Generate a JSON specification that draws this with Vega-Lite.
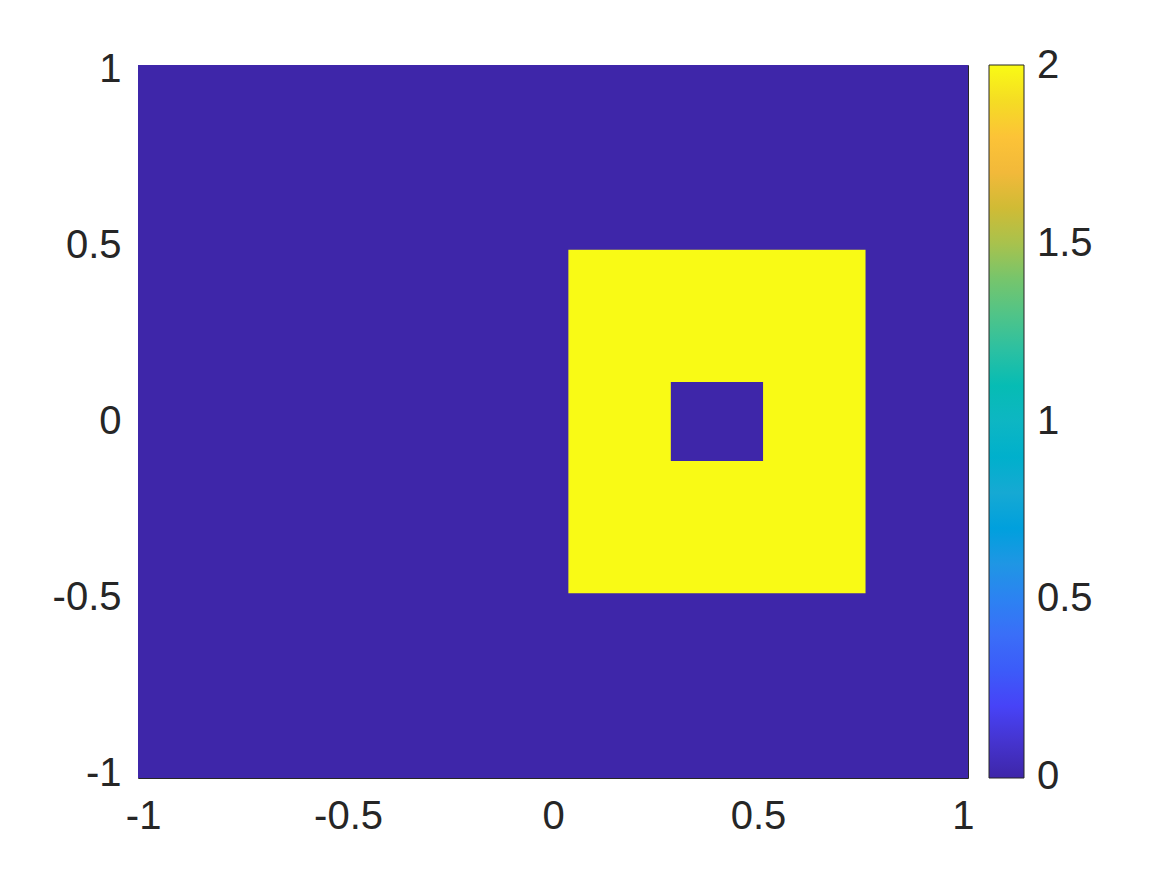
{
  "$schema": "https://vega.github.io/schema/vega-lite/v6.json",
  "width": 830,
  "height": 713,
  "autosize": {"type": "none"},
  "padding": {"left": 138, "top": 65, "right": 199, "bottom": 97},
  "background": "white",
  "config": {
    "view": {"stroke": "#262626", "strokeWidth": 1},
    "font": "Liberation Sans",
    "axis": {
      "domain": false,
      "grid": false,
      "zindex": 1,
      "tickColor": "#262626",
      "tickSize": -8,
      "tickWidth": 1,
      "labelFont": "Liberation Sans",
      "labelFontSize": 40,
      "labelColor": "#262626",
      "title": null
    }
  },
  "data": {
    "values": [
      {"x0": -1.0125, "x1": 1.0125, "y0": -1.0125, "y1": 1.0125, "v": 0},
      {"x0": 0.0375, "x1": 0.7625, "y0": -0.4875, "y1": 0.4875, "v": 2},
      {"x0": 0.2875, "x1": 0.5125, "y0": -0.1125, "y1": 0.1125, "v": 0}
    ]
  },
  "layer": [
    {
      "mark": {"type": "rect"},
      "encoding": {
        "x": {"field": "x0", "type": "quantitative", "scale": {"domain": [-1.0125, 1.0125], "nice": false, "zero": false},
              "axis": {"orient": "bottom", "values": [-1, -0.5, 0, 0.5, 1], "labelPadding": 26, "labelExpr": "'' + datum.value"}},
        "x2": {"field": "x1"},
        "y": {"field": "y0", "type": "quantitative", "scale": {"domain": [-1.0125, 1.0125], "nice": false, "zero": false},
              "axis": {"orient": "left", "values": [-1, -0.5, 0, 0.5, 1], "labelPadding": 25, "labelExpr": "'' + datum.value"}},
        "y2": {"field": "y1"},
        "color": {
          "field": "v", "type": "quantitative",
          "scale": {
            "domain": [-0.002, 0.2, 0.4, 0.5, 0.6, 0.8, 1.0, 1.2, 1.4, 1.5, 1.6, 1.7, 1.8, 1.9, 2.002],
            "range": ["#3e26a8", "#4743f7", "#3a6ef8", "#2c82f2", "#1f96e4", "#16a9d3", "#0db6c3", "#2bc0a2", "#76c56c", "#a8c24d", "#d0bb35", "#f2b93a", "#fcc337", "#f5dc24", "#f9fb15"]
          },
          "legend": {
            "orient": "none",
            "legendX": 851,
            "legendY": 0,
            "direction": "vertical",
            "type": "gradient",
            "title": null,
            "gradientLength": 713,
            "gradientThickness": 35,
            "gradientStrokeColor": "#262626",
            "gradientStrokeWidth": 1,
            "values": [0, 0.5, 1, 1.5, 2],
            "labelExpr": "'' + datum.value",
            "labelFont": "Liberation Sans",
            "labelFontSize": 40,
            "labelColor": "#262626",
            "labelOffset": 13,
            "labelBaseline": "middle",
            "labelOverlap": false
          }
        }
      }
    },
    {
      "mark": {"type": "rect"},
      "encoding": {
        "x": {"field": "x0", "type": "quantitative", "axis": {"orient": "top", "values": [-1, -0.5, 0, 0.5, 1], "labels": false}},
        "x2": {"field": "x1"},
        "y": {"field": "y0", "type": "quantitative", "axis": {"orient": "right", "values": [-1, -0.5, 0, 0.5, 1], "labels": false}},
        "y2": {"field": "y1"},
        "color": {"field": "v", "type": "quantitative"}
      }
    }
  ],
  "resolve": {"axis": {"x": "independent", "y": "independent"}}
}
